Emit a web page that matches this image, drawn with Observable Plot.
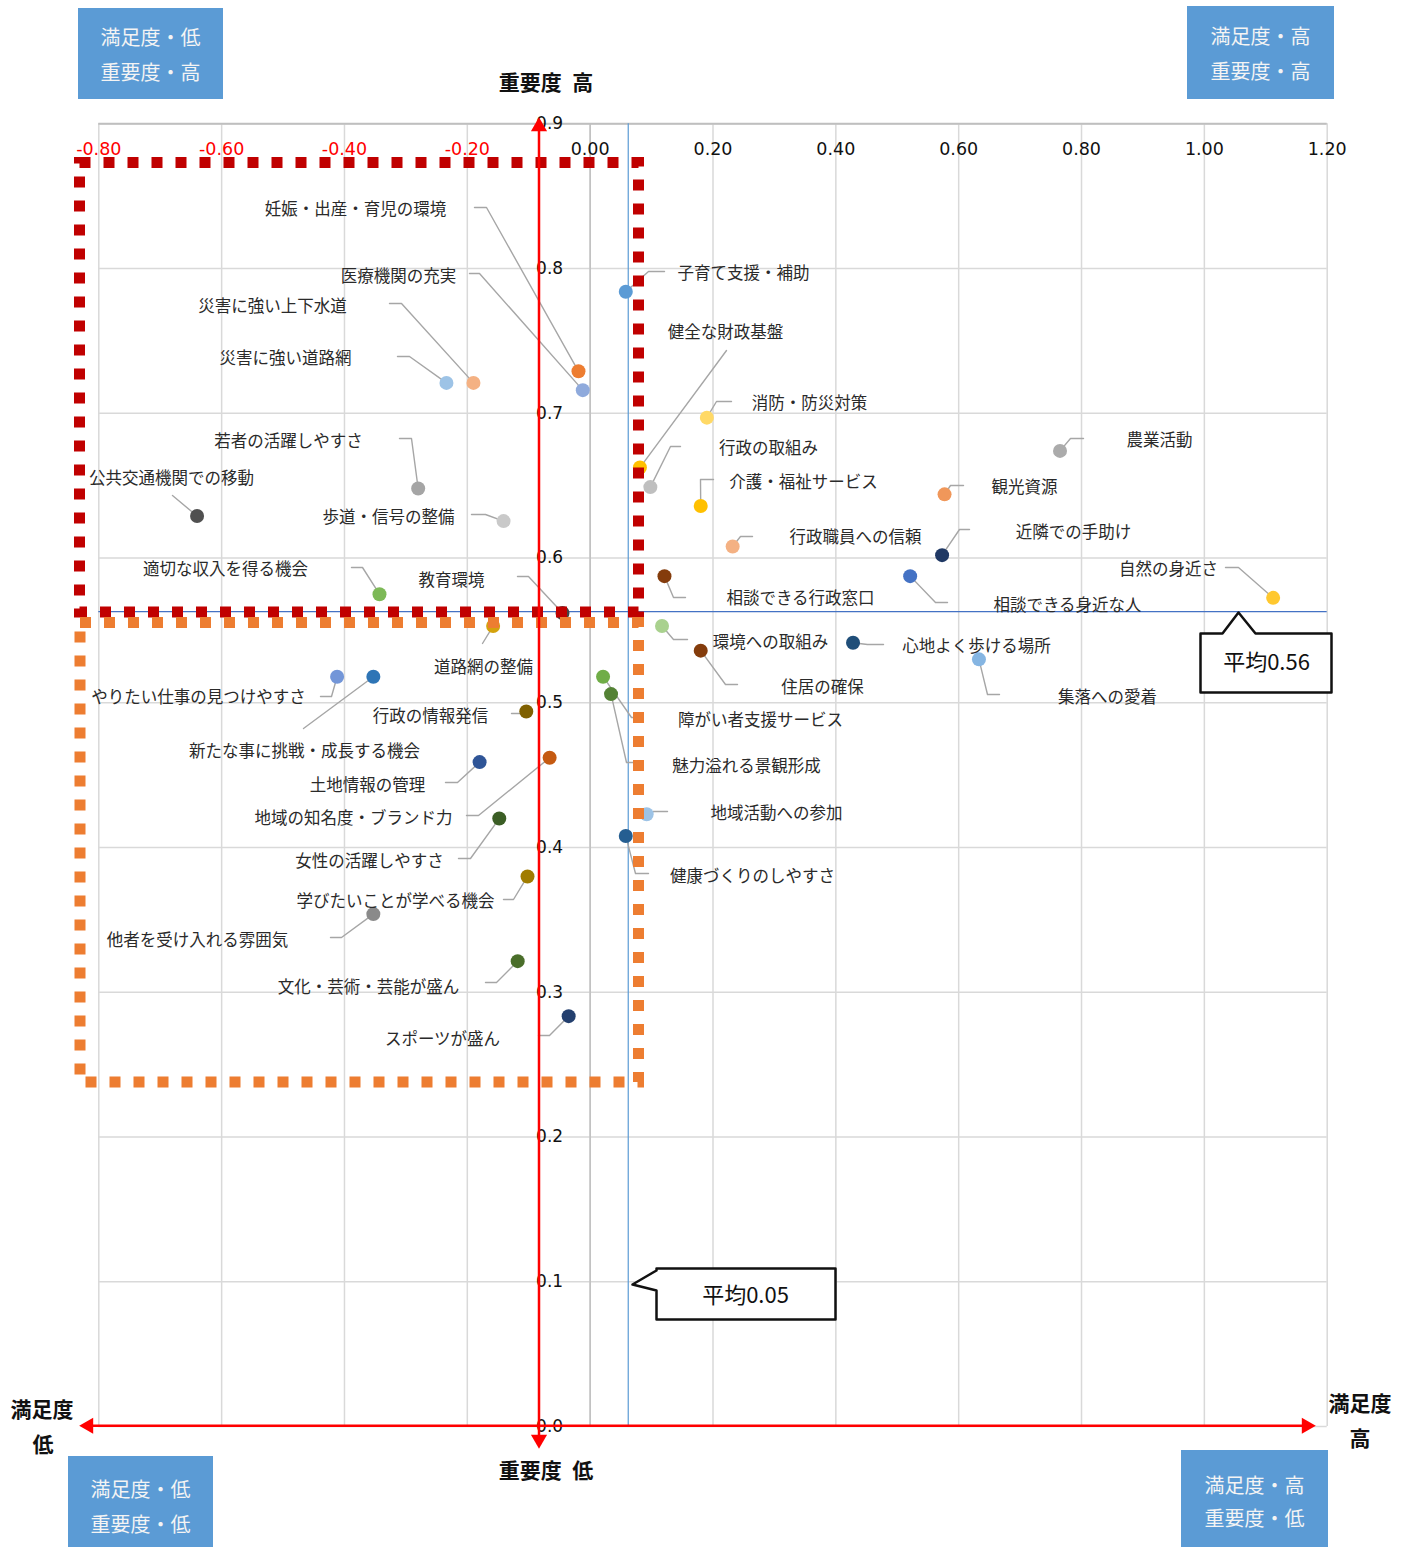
<!DOCTYPE html>
<html><head><meta charset="utf-8">
<script src="https://cdn.jsdelivr.net/npm/d3@7"></script>
<script src="https://cdn.jsdelivr.net/npm/@observablehq/plot@0.6"></script>
<style>
body{margin:0;background:#fff;}
#wrap{position:relative;width:1411px;height:1547px;overflow:hidden;}
#wrap svg{position:absolute;left:0;top:0;}
.qbox{position:absolute;background:#5B9BD5;color:#F4F4F4;font-family:"Noto Sans CJK JP";font-size:20px;text-align:center;}
.qbox div{position:absolute;left:0;right:0;line-height:24px;}
.axt{position:absolute;font-family:"Noto Sans CJK JP";font-weight:bold;font-size:21px;color:#111;white-space:nowrap;transform:translate(-50%,-50%);}
</style></head>
<body><div id="wrap"></div>
<script>
// ---- data ----
const items = [
"子育て支援・補助","妊娠・出産・育児の環境","医療機関の充実","災害に強い上下水道","災害に強い道路網",
"若者の活躍しやすさ","公共交通機関での移動","歩道・信号の整備","適切な収入を得る機会","教育環境",
"道路網の整備","やりたい仕事の見つけやすさ","新たな事に挑戦・成長する機会","行政の情報発信","土地情報の管理",
"地域の知名度・ブランド力","女性の活躍しやすさ","学びたいことが学べる機会","他者を受け入れる雰囲気","文化・芸術・芸能が盛ん",
"スポーツが盛ん","健全な財政基盤","消防・防災対策","行政の取組み","介護・福祉サービス",
"行政職員への信頼","農業活動","観光資源","近隣での手助け","相談できる行政窓口",
"相談できる身近な人","自然の身近さ","環境への取組み","住居の確保","心地よく歩ける場所",
"集落への愛着","障がい者支援サービス","魅力溢れる景観形成","地域活動への参加","健康づくりのしやすさ"];
const satisfaction = [0.058,-0.019,-0.012,-0.190,-0.234,-0.280,-0.640,-0.141,-0.343,-0.045,
-0.158,-0.412,-0.353,-0.104,-0.180,-0.066,-0.148,-0.102,-0.353,-0.118,
-0.035,0.081,0.190,0.098,0.180,0.232,0.765,0.577,0.573,0.121,
0.521,1.112,0.117,0.180,0.428,0.633,0.021,0.034,0.092,0.058];
const importance = [0.784,0.729,0.716,0.721,0.721,0.648,0.629,0.6255,0.575,0.562,
0.553,0.518,0.518,0.494,0.459,0.462,0.420,0.380,0.354,0.3215,
0.2835,0.6625,0.697,0.649,0.636,0.608,0.674,0.644,0.602,0.5875,
0.5875,0.5725,0.553,0.536,0.5415,0.530,0.518,0.506,0.423,0.408];
const avgSatisfaction = 0.062, avgImportance = 0.563;
const avgSatisfactionText = "平均0.05", avgImportanceText = "平均0.56";
const xTicks = [-0.8,-0.6,-0.4,-0.2,0,0.2,0.4,0.6,0.8,1.0,1.2];
const yTicks = [0,0.1,0.2,0.3,0.4,0.5,0.6,0.7,0.8,0.9];

// ---- styles ----
const palette = ["#5B9BD5","#ED7D31","#8FAADC","#F4B183","#9DC3E6","#A5A5A5","#505050","#C9C9C9","#7DB957","#454545",
"#D4A20C","#7396D8","#2E75B6","#7F6000","#2F5597","#C55A11","#3B5E25","#A07C00","#8A8A8A","#4A6E2A",
"#233F6E","#FFC000","#FFD966","#BFBFBF","#FFC000","#F4B183","#ABABAB","#F0975A","#1F3864","#843C0C",
"#4472C4","#FFC82F","#A9D18E","#843C0C","#1F4E79","#85B5E2","#70AD47","#548235","#9DC3E6","#255E91"];
// label layout in pixels: [textX, textY, leaderEndX, leaderEndY, elbowX, elbowY]
const labelLayout = [
[743,273,664,271,648,271],[355,209,474,207,486,207],[398,276,469,273,479,273],[272,306,389,303,401,303],[285,358,397,356,409,356],
[288,441,399,438,411,438],[171,478,172,495,172,495],[388,517,471,514,485,514],[225,569,351,567,362,567],[451,580,517,576,528,576],
[483,667,482,643,482,643],[198,697,320,696,331,696],[304,751,303,728,303,728],[430,716,511,713,521,713],[367,785,445,782,457,782],
[353,818,466,815,478,815],[369,861,458,858,470,858],[395,901,503,899,513,899],[197,940,330,937,341,937],[368,987,485,982,496,982],
[442,1039,538,1035,549,1035],[725,332,726,350,726,350],[809,403,731,401,716,401],[768,448,680,446,670,446],[803,482,713,479,700,479],
[855,537,752,536,740,536],[1159,440,1083,438,1070,438],[1024,487,963,485,950,485],[1073,532,969,529,959,529],[800,598,685,597,673,597],
[1067,605,947,602,935,602],[1168,569,1225,567,1238,567],[770,642,687,639,673,639],[822,687,737,684,725,684],[976,646,883,644,867,644],
[1107,697,999,694,987,694],[760,720,636,717,631,717],[746,766,637,762,626,762],[776,813,667,811,653,811],[752,876,648,873,635,873]];

const W=1411,H=1547,X0=98.3,X1=1326.7,Y0=1426,Y1=123.3;
const pxX = d3.scaleLinear([X0,X1],[-0.8,1.2]);
const pxY = d3.scaleLinear([Y0,Y1],[0,0.9]);

const pts = items.map((name,i)=>({name,x:satisfaction[i],y:importance[i],color:palette[i]}));
const labels = items.map((name,i)=>({name,x:pxX(labelLayout[i][0]),y:pxY(labelLayout[i][1])}));
const leaders = [];
items.forEach((name,i)=>{
  const L=labelLayout[i];
  leaders.push({i,x:satisfaction[i],y:importance[i]});
  leaders.push({i,x:pxX(L[4]),y:pxY(L[5])});
  leaders.push({i,x:pxX(L[2]),y:pxY(L[3])});
});
const redBox = [{x1:pxX(79.5),x2:pxX(638.5),y1:pxY(162.5),y2:pxY(612)}];
const orangeBox = [{x1:pxX(80),x2:pxX(638.5),y1:pxY(622.5),y2:pxY(1082)}];
const arrowX = pxX(538.5);
const poly = (arr,id)=>arr.map(([a,b])=>({id,x:pxX(a),y:pxY(b)}));
const callout1 = poly([[1200,633],[1222,633],[1238,612],[1255,633],[1331,633],[1331,692],[1200,692],[1200,633]],1);
const callout2 = poly([[656,1268],[835,1268],[835,1319],[656,1319],[656,1290],[632,1284],[656,1270],[656,1268]],2);
const RED="#FF0000";
const jp = "Noto Sans CJK JP";

const chart = Plot.plot({
  width:W,height:H,marginLeft:X0,marginRight:W-X1,marginTop:Y1,marginBottom:H-Y0,
  x:{domain:[-0.8,1.2],axis:null},
  y:{domain:[0,0.9],axis:null},
  color:{type:"identity"},
  style:{fontFamily:jp,background:"white"},
  marks:[
    Plot.ruleX(xTicks,{stroke:"#D9D9D9",strokeWidth:1.5}),
    Plot.ruleY(yTicks,{stroke:"#D9D9D9",strokeWidth:1.5}),
    Plot.ruleX([0],{stroke:"#BFBFBF",strokeWidth:1.5}),
    Plot.ruleY([0.9],{stroke:"#BFBFBF",strokeWidth:2}),
    Plot.ruleX([avgSatisfaction],{stroke:"#5B9BD5",strokeWidth:1.2}),
    Plot.ruleY([avgImportance],{x1:-0.8,x2:1.2,stroke:"#4472C4",strokeWidth:1.2}),
    Plot.line(leaders,{x:"x",y:"y",z:"i",stroke:"#A6A6A6",strokeWidth:1.4}),
    Plot.dot(pts,{x:"x",y:"y",r:7,fill:"color",stroke:"none"}),
    Plot.text(labels,{x:"x",y:"y",text:"name",fontSize:16.5,fill:"#2a2a2a",fontFamily:jp}),
    Plot.rect(redBox,{x1:"x1",x2:"x2",y1:"y1",y2:"y2",fill:"none",stroke:"#C00000",strokeWidth:11,strokeDasharray:"11,13"}),
    Plot.rect(orangeBox,{x1:"x1",x2:"x2",y1:"y1",y2:"y2",fill:"none",stroke:"#ED7D31",strokeWidth:11,strokeDasharray:"11,13"}),
    Plot.text(xTicks,{x:d=>d,frameAnchor:"top",lineAnchor:"middle",dy:26,text:d=>d.toFixed(2),fill:d=>d<0?RED:"#111",fontFamily:"DejaVu Sans",fontSize:17.5}),
    Plot.text(yTicks,{x:0,y:d=>d,text:d=>d.toFixed(1),textAnchor:"end",dx:-27,fill:"#111",fontFamily:"DejaVu Sans",fontSize:17}),
    Plot.link([{x:arrowX,y1:pxY(126),y2:pxY(1440)}],{x1:"x",x2:"x",y1:"y1",y2:"y2",stroke:RED,strokeWidth:2.5}),
    Plot.link([{x1:pxX(86),x2:pxX(1308),y:0.0005}],{x1:"x1",x2:"x2",y1:"y",y2:"y",stroke:RED,strokeWidth:2.5}),
    Plot.dot([{x:arrowX,y:pxY(117)}],{x:"x",y:"y",symbol:"triangle",r:6,fill:RED,stroke:"none",dy:9}),
    Plot.dot([{x:arrowX,y:pxY(1448)}],{x:"x",y:"y",symbol:"triangle",r:6,fill:RED,stroke:"none",dy:-9,rotate:180}),
    Plot.dot([{x:pxX(79),y:0.0005}],{x:"x",y:"y",symbol:"triangle",r:6,fill:RED,stroke:"none",dx:9,rotate:-90}),
    Plot.dot([{x:pxX(1315),y:0.0005}],{x:"x",y:"y",symbol:"triangle",r:6,fill:RED,stroke:"none",dx:-9,rotate:90}),
    Plot.line(callout1,{x:"x",y:"y",z:"id",fill:"white",stroke:"#111",strokeWidth:2.5}),
    Plot.line(callout2,{x:"x",y:"y",z:"id",fill:"white",stroke:"#111",strokeWidth:2.5}),
    Plot.text([{x:pxX(1266),y:pxY(662),t:avgImportanceText}],{x:"x",y:"y",text:"t",fontSize:22,fill:"#111",fontFamily:jp}),
    Plot.text([{x:pxX(745),y:pxY(1295),t:avgSatisfactionText}],{x:"x",y:"y",text:"t",fontSize:22,fill:"#111",fontFamily:jp})
  ]
});
const wrap = document.getElementById("wrap");
wrap.appendChild(chart);

// quadrant boxes and axis titles (layout overlays)
const boxes = [
  {l:78,t:8,w:145,h:91,a:"満足度・低",b:"重要度・高",ya:37,yb:72},
  {l:1187,t:6,w:147,h:93,a:"満足度・高",b:"重要度・高",ya:36,yb:71},
  {l:68,t:1456,w:145,h:91,a:"満足度・低",b:"重要度・低",ya:1489,yb:1524},
  {l:1181,t:1450,w:147,h:97,a:"満足度・高",b:"重要度・低",ya:1485,yb:1518}
];
boxes.forEach(b=>{
  const d=document.createElement("div");d.className="qbox";
  Object.assign(d.style,{left:b.l+"px",top:b.t+"px",width:b.w+"px",height:b.h+"px"});
  const s1=document.createElement("div");s1.textContent=b.a;s1.style.top=(b.ya-b.t-12)+"px";
  const s2=document.createElement("div");s2.textContent=b.b;s2.style.top=(b.yb-b.t-12)+"px";
  d.appendChild(s1);d.appendChild(s2);wrap.appendChild(d);
});
const titles = [
  {x:546,y:81,t:"重要度\u2002高"},{x:546,y:1469,t:"重要度\u2002低"},
  {x:42,y:1408,t:"満足度"},{x:43,y:1443,t:"低"},
  {x:1360,y:1402,t:"満足度"},{x:1360,y:1437,t:"高"}
];
titles.forEach(o=>{
  const d=document.createElement("div");d.className="axt";d.textContent=o.t;
  d.style.left=o.x+"px";d.style.top=o.y+"px";wrap.appendChild(d);
});
</script></body></html>
